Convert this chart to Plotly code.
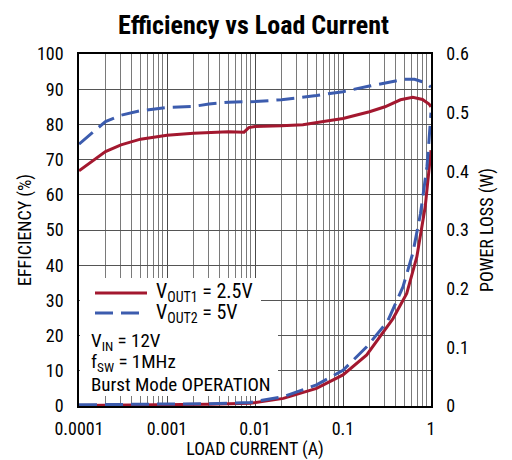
import plotly.graph_objects as go

# ---- data ----
eff1_current = [0.0001, 0.0002, 0.0003, 0.0005, 0.001, 0.002, 0.005, 0.0075, 0.0085, 0.01,
                0.02, 0.035, 0.06, 0.1, 0.2, 0.3, 0.45, 0.62, 0.8, 0.95, 1.0]
eff1_values = [66.8, 72.3, 74.2, 75.8, 76.9, 77.5, 77.9, 77.8, 79.1, 79.4,
               79.6, 79.9, 80.8, 81.7, 83.6, 85.0, 87.0, 87.7, 87.1, 85.8, 85.0]

eff2_current = [0.0001, 0.0002, 0.0003, 0.0005, 0.001, 0.002, 0.003, 0.005, 0.01, 0.02,
                0.05, 0.085, 0.1, 0.2, 0.3, 0.5, 0.65, 0.8, 0.95, 1.0]
eff2_values = [74.4, 80.8, 82.6, 83.9, 84.8, 85.1, 85.8, 86.3, 86.5, 87.0,
               88.2, 88.9, 89.3, 90.9, 91.8, 92.8, 92.8, 92.1, 91.0, 90.6]

loss1_current = [0.0001, 0.001, 0.003, 0.0088, 0.021, 0.05, 0.1, 0.186, 0.37, 0.53, 0.69, 0.86, 1.0]
loss1_values = [0.001, 0.002, 0.003, 0.0046, 0.013, 0.030, 0.053, 0.087, 0.149, 0.192, 0.254, 0.34, 0.436]

loss2_current = [0.0001, 0.001, 0.003, 0.0088, 0.021, 0.05, 0.1, 0.186, 0.32, 0.48, 0.62, 0.76, 0.9, 0.95, 1.0]
loss2_values = [0.002, 0.003, 0.004, 0.006, 0.016, 0.036, 0.061, 0.101, 0.144, 0.203, 0.26, 0.328, 0.408, 0.453, 0.50]

x_tickvals = [0.0001, 0.001, 0.01, 0.1, 1]
x_ticktext = ["0.0001", "0.001", "0.01", "0.1", "1"]
y_tickvals = [0, 10, 20, 30, 40, 50, 60, 70, 80, 90, 100]
y2_tickvals = [0, 0.1, 0.2, 0.3, 0.4, 0.5, 0.6]
y2_ticktext = ["0", "0.1", "0.2", "0.3", "0.4", "0.5", "0.6"]

RED = "#A3182F"
BLUE = "#3C5CAE"
FONT = "Liberation Sans Narrow, Arial Narrow, Roboto Condensed, sans-serif"

fig = go.Figure()
fig.add_trace(go.Scatter(x=eff1_current, y=eff1_values, mode="lines",
                         line=dict(color=RED, width=3), showlegend=False))
fig.add_trace(go.Scatter(x=eff2_current, y=eff2_values, mode="lines",
                         line=dict(color=BLUE, width=3, dash="18px,8px"), showlegend=False))
fig.add_trace(go.Scatter(x=loss1_current, y=loss1_values, mode="lines", yaxis="y2",
                         line=dict(color=RED, width=3), showlegend=False))
fig.add_trace(go.Scatter(x=loss2_current, y=loss2_values, mode="lines", yaxis="y2",
                         line=dict(color=BLUE, width=3, dash="18px,8px"), showlegend=False))

# page body has an 8px margin; compensate so the plot lands where the reference has it
OFF = 8
W, H = 512 - OFF, 460 - OFF
L, R, T, B = 79 - OFF, 81, 54 - OFF, 54
PL, PR, PT, PB = 79, 431, 54, 406   # plot area in screen pixels
pw, ph = PR - PL, PB - PT

def px(x):
    return (x - PL) / pw

def py(y):
    return (PB - y) / ph

shapes = [
    # white boxes behind legend / conditions text
    dict(type="rect", xref="paper", yref="paper", x0=px(80), x1=px(261), y0=py(320), y1=py(278),
         fillcolor="white", line=dict(width=0), layer="above"),
    dict(type="rect", xref="paper", yref="paper", x0=px(80), x1=px(278), y0=py(396), y1=py(320),
         fillcolor="white", line=dict(width=0), layer="above"),
    # legend samples
    dict(type="line", xref="paper", yref="paper", x0=px(95), x1=px(147), y0=py(293), y1=py(293),
         line=dict(color=RED, width=3), layer="above"),
    dict(type="line", xref="paper", yref="paper", x0=px(95), x1=px(147), y0=py(313), y1=py(313),
         line=dict(color=BLUE, width=3, dash="18px,8px"), layer="above"),
]

annos = []
def txt(x, y, s, size=18):
    annos.append(dict(xref="paper", yref="paper", x=px(x), y=py(y), text=s, showarrow=False,
                      xanchor="left", yanchor="middle", font=dict(family=FONT, size=size, color="black")))

txt(154, 292, "V<sub>OUT1</sub> = 2.5V", 20)
txt(154, 313, "V<sub>OUT2</sub> = 5V", 20)
txt(89, 341, "V<sub>IN</sub> = 12V", 19)
txt(89, 362, "f<sub>SW</sub> = 1MHz", 19)
txt(89, 384, "Burst Mode OPERATION", 19)

fig.update_layout(
    width=W, height=H,
    margin=dict(l=L, r=R, t=T, b=B, autoexpand=False),
    paper_bgcolor="white", plot_bgcolor="white",
    font=dict(family=FONT, size=18, color="black"),
    title=dict(text="<b>Efficiency vs Load Current</b>", x=(253.5 - OFF) / W, xanchor="center",
               y=1 - (25 - OFF) / H, yanchor="middle", font=dict(family=FONT, size=26, color="black")),
    shapes=shapes,
    annotations=annos,
    xaxis=dict(type="log", range=[-4, 0], tickvals=x_tickvals, ticktext=x_ticktext,
               showgrid=True, gridcolor="#4a4a4a", gridwidth=1,
               minor=dict(showgrid=True, gridcolor="#7a7a7a", gridwidth=1, dtick="D1"),
               showline=True, linecolor="black", linewidth=1.5, mirror=True,
               ticks="", ticklabelstandoff=6, zeroline=False,
               title=dict(text="LOAD CURRENT (A)", standoff=6, font=dict(size=18))),
    yaxis=dict(range=[0, 100], tickvals=y_tickvals, showgrid=True, gridcolor="#555555", gridwidth=1,
               showline=True, linecolor="black", linewidth=1.5, ticks="", ticklabelstandoff=10,
               zeroline=False,
               title=dict(text="EFFICIENCY (%)", standoff=1, font=dict(size=18))),
    yaxis2=dict(range=[0, 0.6], tickvals=y2_tickvals, ticktext=y2_ticktext, overlaying="y", side="right",
                showgrid=False, showline=True, linecolor="black", linewidth=1.5, ticks="",
                ticklabelstandoff=10, zeroline=False,
                title=dict(text="POWER LOSS (W)", standoff=12, font=dict(size=18))),
)

fig.write_html("out.html")
